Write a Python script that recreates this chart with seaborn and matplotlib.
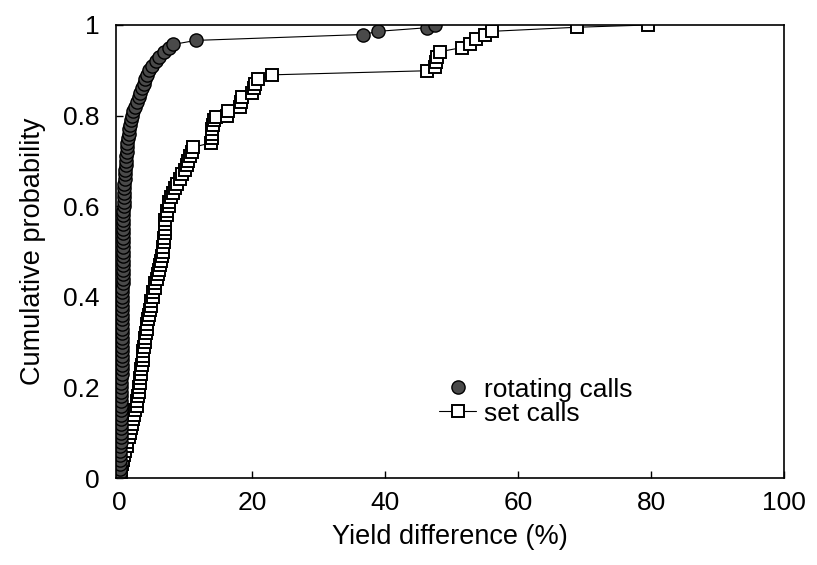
import numpy as np
import pandas as pd
import seaborn as sns
import matplotlib.pyplot as plt
from matplotlib.lines import Line2D

# values (cumulative distribution of yield differences)
rot_x = [0.00, 0.05, 0.08, 0.10, 0.12, 0.14, 0.15, 0.17, 0.18, 0.20,
         0.21, 0.22, 0.23, 0.24, 0.25, 0.26, 0.27, 0.28, 0.29, 0.30,
         0.30, 0.31, 0.32, 0.33, 0.33, 0.34, 0.35, 0.36, 0.36, 0.37,
         0.38, 0.38, 0.39, 0.40, 0.41, 0.42, 0.42, 0.43, 0.44, 0.45,
         0.45, 0.46, 0.47, 0.48, 0.48, 0.49, 0.50, 0.51, 0.52, 0.52,
         0.53, 0.54, 0.55, 0.56, 0.57, 0.58, 0.59, 0.60, 0.61, 0.62,
         0.63, 0.65, 0.68, 0.70, 0.73, 0.76, 0.80, 0.85, 0.90, 0.95,
         1.00, 1.05, 1.10, 1.15, 1.20, 1.30, 1.40, 1.50, 1.60, 1.75,
         1.90, 2.10, 2.40, 2.70, 2.90, 3.10, 3.40, 3.70, 3.90, 4.20,
         4.50, 4.90, 5.50, 6.00, 6.70, 7.50, 8.10, 11.5, 36.7, 38.9,
         46.3, 47.5]
rot_y = [0.00, 0.01, 0.02, 0.03, 0.04, 0.05, 0.06, 0.07, 0.08, 0.09,
         0.10, 0.11, 0.12, 0.13, 0.14, 0.15, 0.16, 0.17, 0.18, 0.19,
         0.20, 0.21, 0.22, 0.23, 0.24, 0.25, 0.26, 0.27, 0.28, 0.29,
         0.30, 0.31, 0.32, 0.33, 0.34, 0.35, 0.36, 0.37, 0.38, 0.39,
         0.40, 0.41, 0.42, 0.43, 0.44, 0.45, 0.46, 0.47, 0.48, 0.49,
         0.50, 0.51, 0.52, 0.53, 0.54, 0.55, 0.56, 0.57, 0.58, 0.59,
         0.60, 0.61, 0.62, 0.63, 0.64, 0.65, 0.66, 0.67, 0.68, 0.69,
         0.70, 0.71, 0.72, 0.73, 0.74, 0.75, 0.76, 0.77, 0.78, 0.79,
         0.80, 0.81, 0.82, 0.83, 0.84, 0.85, 0.86, 0.87, 0.88, 0.89,
         0.90, 0.91, 0.92, 0.93, 0.94, 0.95, 0.957, 0.966, 0.979, 0.986,
         0.994, 1.000]

set_x = [0.1, 0.2, 0.3, 0.4, 0.6, 0.7, 0.9, 1.1, 1.2, 1.4,
         1.6, 1.7, 1.9, 2.0, 2.2, 2.4, 2.6, 2.7, 2.8, 2.9,
         3.0, 3.1, 3.1, 3.2, 3.3, 3.4, 3.5, 3.5, 3.6, 3.7,
         3.8, 3.9, 4.0, 4.1, 4.2, 4.3, 4.4, 4.6, 4.7, 4.8,
         5.0, 5.1, 5.3, 5.4, 5.6, 5.8, 5.9, 6.1, 6.2, 6.4,
         6.5, 6.6, 6.7, 6.7, 6.8, 6.8, 6.9, 6.9, 7.1, 7.2,
         7.4, 7.5, 7.8, 8.1, 8.4, 8.7, 9.1, 9.5, 9.9, 10.2,
         10.4, 10.7, 10.9, 11.1, 13.8, 13.9, 13.9, 14.0, 14.1, 14.2,
         14.5, 16.2, 16.3, 18.2, 18.3, 18.5, 20.0, 20.2, 20.4, 20.9,
         23.0, 46.3, 47.5, 47.6, 47.8, 48.2, 51.5, 52.7, 53.6, 55.0,
         56.0, 68.8, 79.5]
set_y = [0.00, 0.01, 0.02, 0.03, 0.04, 0.05, 0.06, 0.07, 0.08, 0.09,
         0.10, 0.11, 0.12, 0.13, 0.14, 0.15, 0.16, 0.17, 0.18, 0.19,
         0.20, 0.21, 0.22, 0.23, 0.24, 0.25, 0.26, 0.27, 0.28, 0.29,
         0.30, 0.31, 0.32, 0.33, 0.34, 0.35, 0.36, 0.37, 0.38, 0.39,
         0.40, 0.41, 0.42, 0.43, 0.44, 0.45, 0.46, 0.47, 0.48, 0.49,
         0.50, 0.51, 0.52, 0.53, 0.54, 0.55, 0.56, 0.57, 0.58, 0.59,
         0.60, 0.61, 0.62, 0.63, 0.64, 0.65, 0.66, 0.67, 0.68, 0.69,
         0.70, 0.71, 0.72, 0.73, 0.74, 0.75, 0.76, 0.77, 0.78, 0.79,
         0.796, 0.80, 0.81, 0.82, 0.83, 0.84, 0.85, 0.86, 0.87, 0.88,
         0.89, 0.899, 0.908, 0.919, 0.930, 0.941, 0.950, 0.959, 0.968, 0.979,
         0.986, 0.995, 1.000]

x_ticks = [0, 20, 40, 60, 80, 100]
y_ticks = [0, 0.2, 0.4, 0.6, 0.8, 1]
y_tick_labels = ['0', '0.2', '0.4', '0.6', '0.8', '1']

sns.set_style('ticks')
plt.rcParams['font.family'] = ['Liberation Sans', 'DejaVu Sans']
plt.rcParams['text.color'] = 'black'
plt.rcParams['axes.labelcolor'] = 'black'
plt.rcParams['xtick.color'] = 'black'
plt.rcParams['ytick.color'] = 'black'

df_rot = pd.DataFrame({'x': rot_x, 'y': rot_y})
df_set = pd.DataFrame({'x': set_x, 'y': set_y})

fig = plt.figure(figsize=(8.17, 5.65), dpi=100)
ax = fig.add_axes([116 / 817, 1 - 478 / 565, (784 - 116) / 817, (478 - 25) / 565])

# set calls: open squares joined by a thin line
sns.lineplot(data=df_set, x='x', y='y', ax=ax, sort=False, estimator=None,
             color='black', linewidth=0.8, marker='s', markersize=8.5,
             markerfacecolor='white', markeredgecolor='black',
             markeredgewidth=1.4, legend=False)
# rotating calls: dark filled circles
sns.lineplot(data=df_rot, x='x', y='y', ax=ax, sort=False, estimator=None,
             color='black', linewidth=0.8, marker='o', markersize=9.5,
             markerfacecolor='#4a4a4a', markeredgecolor='black',
             markeredgewidth=1.0, legend=False)

ax.set_xlim(-0.5, 100)
ax.set_ylim(0, 1.0)
ax.set_xticks(x_ticks)
ax.set_xticklabels([str(t) for t in x_ticks])
ax.set_yticks(y_ticks)
ax.set_yticklabels(y_tick_labels)
ax.tick_params(direction='in', length=5, width=1, labelsize=19, pad=9)
ax.tick_params(axis='y', pad=12)
for sp in ax.spines.values():
    sp.set_linewidth(1.2)
    sp.set_color('black')

ax.set_xlabel('Yield difference (%)', fontsize=19.5, labelpad=7)
ax.set_ylabel('Cumulative probability', fontsize=19.5, labelpad=12)

handles = [
    Line2D([], [], linestyle='none', marker='o', markersize=9.5,
           markerfacecolor='#4a4a4a', markeredgecolor='black'),
    Line2D([], [], color='black', linewidth=0.8, marker='s', markersize=8.5,
           markerfacecolor='white', markeredgecolor='black', markeredgewidth=1.4),
]
ax.legend(handles, ['rotating calls', 'set calls'], frameon=False,
          fontsize=19, loc='upper left', bbox_to_anchor=(0.468, 0.245),
          handlelength=1.4, handletextpad=0.3, labelspacing=0.0,
          borderaxespad=0)

fig.savefig('out.png', dpi=100)
